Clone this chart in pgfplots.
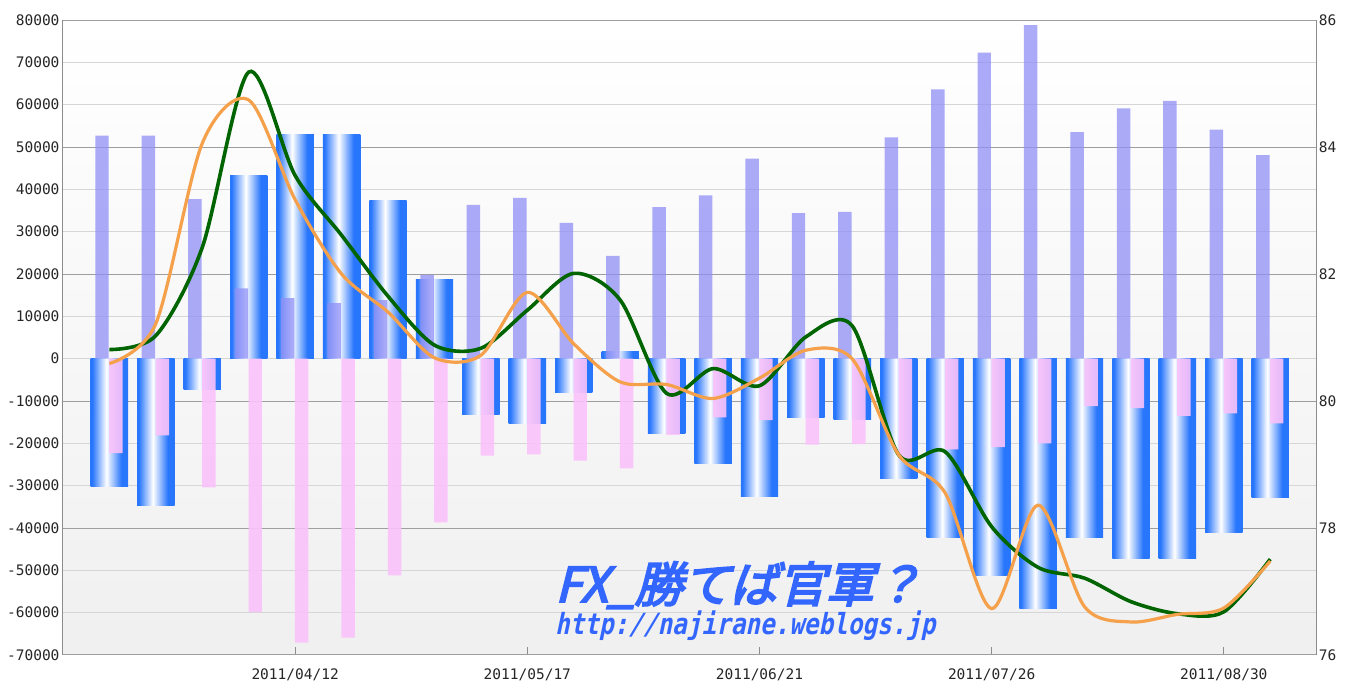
\documentclass[border=0pt]{standalone}
\usepackage{fontspec}
\usepackage{graphicx}
\usepackage{pgfplots}
\usepackage{pgfplotstable}
\pgfplotsset{compat=1.18}
\newfontfamily\lbl{DejaVu Sans Mono}
\newfontfamily\wmcjk[FakeSlant=0.25,FakeBold=4]{Noto Sans CJK JP}
\newfontfamily\wmurl[BoldFeatures={FakeSlant=0.25}]{DejaVu Sans Mono}
\definecolor{bblue}{RGB}{40,118,252}
\definecolor{lav}{RGB}{143,143,246}
\definecolor{pnk}{RGB}{250,194,250}
\definecolor{gline}{RGB}{0,100,0}
\definecolor{oline}{RGB}{245,160,75}
\definecolor{wm}{RGB}{51,102,255}
\pgfdeclarehorizontalshading{barblue}{100bp}{color(0bp)=(bblue); color(27bp)=(bblue); color(46bp)=(white); color(66bp)=(bblue); color(100bp)=(bblue)}

\pgfplotstableread{
x lav pink blue
0 52700 -22300 -30300
1 52700 -18100 -34600
2 37700 -30400 -7200
3 16600 -59900 43300
4 14300 -67100 53000
5 13100 -65900 53000
6 13800 -51200 37300
7 19800 -38700 18800
8 36300 -22900 -13200
9 38000 -22600 -15200
10 32100 -24100 -8000
11 24300 -25900 1700
12 35800 -18000 -17700
13 38600 -13850 -24700
14 47250 -14500 -32600
15 34400 -20300 -13900
16 34700 -20200 -14400
17 52300 -24000 -28200
18 63600 -21400 -42200
19 72300 -20900 -51300
20 78800 -20000 -58900
21 53500 -11200 -42200
22 59100 -11700 -47300
23 60900 -13500 -47100
24 54100 -12900 -41100
25 48100 -15300 -32800
}\bars

\pgfplotstableread{
x green orange
0 80.81 80.59
1 81.03 81.22
2 82.42 84.06
3 85.18 84.74
4 83.55 83.17
5 82.61 82.00
6 81.65 81.40
7 80.88 80.68
8 80.83 80.72
9 81.43 81.71
10 82.01 80.90
11 81.59 80.30
12 80.12 80.26
13 80.51 80.04
14 80.24 80.36
15 81.01 80.80
16 81.18 80.66
17 79.15 79.15
18 79.20 78.55
19 78.02 76.73
20 77.38 78.36
21 77.21 76.76
22 76.84 76.52
23 76.65 76.64
24 76.68 76.74
25 77.51 77.48
}\rates

\begin{document}
\begin{tikzpicture}
\useasboundingbox (-63pt,-27pt) rectangle (1288pt,655pt);
\begin{axis}[
  scale only axis, width=1253.7pt, height=635pt,
  xmin=-1, xmax=26, ymin=-70000, ymax=80000,
  scaled y ticks=false, scaled x ticks=false,
  axis background/.style={top color=white, bottom color=black!6},
  axis line style={draw=black!45, line width=1pt},
  xtick={4,9,14,19,24},
  xticklabels={2011/04/12,2011/05/17,2011/06/21,2011/07/26,2011/08/30},
  xtick pos=left, tick align=inside, major tick length=8pt,
  xtick style={draw=black!45, line width=0.8pt},
  ytick={-70000,-60000,...,80000},
  yticklabels={-70000,-60000,-50000,-40000,-30000,-20000,-10000,0,10000,20000,30000,40000,50000,60000,70000,80000},
  ytick pos=left, ytick style={draw=none},
  ymajorgrids, major grid style={draw=black!16, line width=1pt},
  extra y ticks={-70000,-40000,-10000,20000,50000,80000},
  extra y tick labels={},
  extra y tick style={major grid style={draw=black!38, line width=1pt}, ytick style={draw=none}},
  ticklabel style={font=\lbl\fontsize{14.5}{17}\selectfont, text=black!85},
  xticklabel style={yshift=-10pt},
]
\pgfplotsinvokeforeach{0,...,25}{
  \addplot[ybar, bar width=0.805, bar shift=0, draw=none, shade, shading=barblue,
    restrict expr to domain={\coordindex}{#1:#1}] table[x=x,y=blue]{\bars};
}
\addplot[ybar, bar width=0.29, bar shift=-0.16, draw=none, fill=lav, fill opacity=0.75] table[x=x,y=lav]{\bars};
\addplot[ybar, bar width=0.29, bar shift=0.14, draw=none, fill=pnk, fill opacity=0.9] table[x=x,y=pink]{\bars};
\end{axis}
\begin{axis}[
  scale only axis, width=1253.7pt, height=635pt,
  xmin=-1, xmax=26, ymin=76, ymax=86,
  hide x axis, axis y line*=right,
  axis line style={draw=black!45, line width=1pt, -},
  ytick={76,78,...,86}, yticklabels={76,78,80,82,84,86},
  ytick style={draw=none},
  yticklabel style={font=\lbl\fontsize{14.5}{17}\selectfont, text=black!85, anchor=west, inner sep=1pt, xshift=1pt},
]
\addplot[smooth, draw=gline, line width=3.6pt] table[x=x,y=green]{\rates};
\addplot[smooth, draw=oline, line width=3.2pt] table[x=x,y=orange]{\rates};
\end{axis}
\node[anchor=base west, inner sep=0pt, text=wm] at (492pt,53pt) {\wmcjk\fontsize{48}{50}\selectfont FX\_勝てば官軍？};
\node[anchor=base west, inner sep=0pt, text=wm] at (492pt,20pt) {\scalebox{1}[1.2]{\wmurl\bfseries\fontsize{24.3}{26}\selectfont http://najirane.weblogs.jp}};
\end{tikzpicture}
\end{document}
